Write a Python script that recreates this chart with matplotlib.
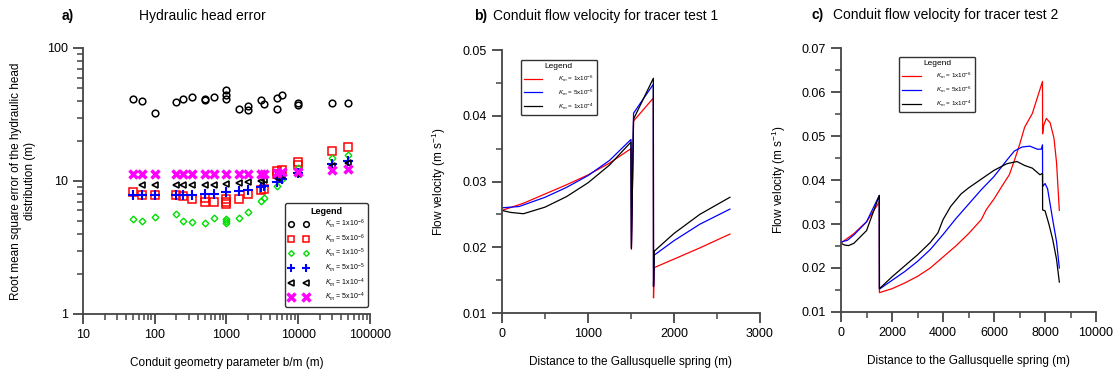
import matplotlib.pyplot as plt
from matplotlib.ticker import FixedLocator, NullFormatter, LogLocator

plt.rcParams['font.family'] = ['Liberation Sans', 'DejaVu Sans']
plt.rcParams['mathtext.fontset'] = 'custom'
plt.rcParams['mathtext.rm'] = 'Liberation Sans'
plt.rcParams['mathtext.it'] = 'Liberation Sans:italic'

# ---- panel a: RMSE of hydraulic head vs conduit geometry parameter
circ_x = [50, 67, 100, 200, 250, 333, 500, 500, 667, 1000, 1000, 1000, 1500, 2000, 2000,
          3000, 3333, 5000, 5000, 6000, 10000, 10000, 30000, 50000]
circ_y = [41, 40, 32.5, 39, 41.6, 42.8, 41.5, 40.7, 43, 48.3, 44.4, 41.4, 35, 36.6, 34,
          40.5, 37.9, 41.9, 34.8, 44.4, 38.4, 37.1, 38.6, 38.6]

sq_x = [50, 67, 100, 200, 250, 333, 500, 500, 667, 1000, 1000, 1000, 1500, 2000, 3000,
        3333, 5000, 5000, 6000, 10000, 10000, 30000, 50000]
sq_y = [8.2, 7.9, 7.8, 7.9, 7.7, 7.3, 7.4, 6.95, 7.0, 7.3, 7.0, 6.7, 7.3, 8.0, 8.5,
        8.7, 11.2, 11.8, 12.2, 13.2, 14.0, 16.8, 17.9]

dia_x = [50, 67, 100, 200, 250, 333, 500, 667, 1000, 1000, 1000, 1500, 2000, 3000, 3333,
         5000, 6000, 10000, 30000, 50000]
dia_y = [5.15, 5.0, 5.4, 5.65, 5.0, 4.95, 4.85, 5.3, 5.15, 5.0, 4.85, 5.25, 5.85, 7.1, 7.45,
         9.1, 10.3, 12.5, 14.9, 15.7]

plus_x = [50, 67, 100, 200, 250, 333, 500, 667, 1000, 1500, 2000, 3000, 3333, 5000, 6000,
          10000, 30000, 50000]
plus_y = [7.85, 7.85, 7.8, 7.9, 7.85, 7.85, 8.0, 8.05, 8.2, 8.45, 8.5, 9.05, 9.2, 9.8, 10.3,
          11.5, 13.4, 14.2]

tri_x = [67, 100, 200, 250, 333, 500, 667, 1000, 1500, 2000, 3000, 3333, 5000, 6000,
         10000, 30000, 50000]
tri_y = [9.3, 9.3, 9.35, 9.35, 9.35, 9.4, 9.4, 9.55, 9.7, 9.8, 10.0, 10.2, 10.6, 11.0,
         11.2, 13.0, 13.6]

cross_x = [50, 67, 100, 200, 250, 333, 500, 667, 1000, 1500, 2000, 3000, 3333, 5000, 6000,
           10000, 30000, 50000]
cross_y = [11.2, 11.2, 11.2, 11.2, 11.2, 11.2, 11.2, 11.2, 11.2, 11.2, 11.2, 11.2, 11.3,
           11.4, 11.6, 11.7, 12.1, 12.4]

km_labels_a = ['1x10$^{-6}$', '5x10$^{-6}$', '1x10$^{-5}$', '5x10$^{-5}$',
               '1x10$^{-4}$', '5x10$^{-4}$']

# ---- panel b: conduit flow velocity, tracer test 1
b_red_x = [0, 250, 500, 750, 1000, 1250, 1500, 1505, 1530, 1760, 1762, 1770, 2000, 2300, 2650]
b_red_y = [0.0256, 0.0267, 0.0281, 0.0295, 0.0310, 0.0328, 0.0350, 0.0197, 0.0392, 0.0427,
           0.0123, 0.0169, 0.0182, 0.0199, 0.0220]
b_blue_x = [0, 200, 500, 750, 1000, 1250, 1500, 1505, 1530, 1760, 1762, 1770, 2000, 2300, 2650]
b_blue_y = [0.0260, 0.0262, 0.0276, 0.0291, 0.0309, 0.0332, 0.0364, 0.0200, 0.0404, 0.0448,
            0.0140, 0.0188, 0.0210, 0.0235, 0.0258]
b_black_x = [0, 100, 250, 500, 750, 1000, 1250, 1500, 1505, 1530, 1760, 1762, 1770, 2000,
             2300, 2650]
b_black_y = [0.0256, 0.0253, 0.0251, 0.0261, 0.0277, 0.0298, 0.0325, 0.0360, 0.0198, 0.0395,
             0.0457, 0.0141, 0.0194, 0.0221, 0.0250, 0.0276]

# ---- panel c: conduit flow velocity, tracer test 2
c_red_x = [0, 500, 1000, 1500, 1505, 2000, 2500, 3000, 3500, 4000, 4500, 5000, 5500, 5700,
           6000, 6300, 6600, 6800, 7000, 7200, 7500, 7900, 7905, 7950, 8050, 8200, 8350,
           8450, 8560]
c_red_y = [0.0257, 0.0278, 0.0305, 0.0350, 0.0144, 0.0153, 0.0166, 0.0181, 0.0200, 0.0225,
           0.0250, 0.0278, 0.0310, 0.0333, 0.0357, 0.0385, 0.0412, 0.0445, 0.0480, 0.0520,
           0.0551, 0.0624, 0.0505, 0.0525, 0.0540, 0.0530, 0.0495, 0.0440, 0.0331]
c_blue_x = [0, 250, 500, 1000, 1500, 1505, 2000, 2500, 3000, 3500, 4000, 4500, 5000, 5500,
            6000, 6500, 6800, 7100, 7400, 7700, 7850, 7900, 7905, 8000, 8100, 8300, 8450, 8560]
c_blue_y = [0.0259, 0.0263, 0.0275, 0.0305, 0.0365, 0.0152, 0.0172, 0.0192, 0.0215, 0.0242,
            0.0276, 0.0312, 0.0345, 0.0378, 0.0408, 0.0445, 0.0466, 0.0475, 0.0477, 0.0470,
            0.0470, 0.0480, 0.0385, 0.0392, 0.0380, 0.0310, 0.0260, 0.0200]
c_black_x = [0, 150, 300, 500, 1000, 1500, 1505, 2000, 2500, 3000, 3500, 3800, 4000, 4300,
             4700, 5000, 5400, 5700, 6000, 6500, 6900, 7200, 7500, 7800, 7900, 7905, 8000,
             8150, 8300, 8450, 8560]
c_black_y = [0.0256, 0.0252, 0.0251, 0.0256, 0.0285, 0.0365, 0.0153, 0.0180, 0.0205, 0.0230,
             0.0258, 0.0280, 0.0310, 0.0340, 0.0368, 0.0382, 0.0398, 0.0410, 0.0422, 0.0437,
             0.0442, 0.0433, 0.0427, 0.0412, 0.0415, 0.0332, 0.0330, 0.0300, 0.0265, 0.0220,
             0.0168]

km_labels_bc = ['1x10$^{-6}$', '5x10$^{-6}$', '1x10$^{-4}$']

SPINE = '#444444'


def style_axes(ax):
    for s in ['top', 'right']:
        ax.spines[s].set_visible(False)
    for s in ['left', 'bottom']:
        ax.spines[s].set_color(SPINE)
        ax.spines[s].set_linewidth(1.3)
    ax.tick_params(which='major', direction='out', length=7, width=1.3, color=SPINE,
                   labelsize=9, pad=4)
    ax.tick_params(which='minor', direction='out', length=4, width=1.1, color=SPINE)


def small_legend(ax, anchor):
    leg = ax.legend(loc='upper left', bbox_to_anchor=anchor, fontsize=4.5,
                    title='Legend', title_fontsize=6, frameon=True, fancybox=True,
                    edgecolor='black', handlelength=3.0, borderpad=0.5, labelspacing=0.6,
                    handletextpad=2.5)
    leg.get_frame().set_linewidth(1.0)
    return leg


fig = plt.figure(figsize=(11.15, 3.75), dpi=100)

# ---------------- panel a
ax1 = fig.add_axes([0.0744, 0.1627, 0.2574, 0.7093])
ax1.set_xscale('log')
ax1.set_yscale('log')
ax1.plot(circ_x, circ_y, 'o', ls='none', mfc='none', mec='black', ms=4.8, mew=1.1,
         label='$K_m$ = ' + km_labels_a[0])
ax1.plot(sq_x, sq_y, 's', ls='none', mfc='none', mec='red', ms=5.2, mew=1.1,
         label='$K_m$ = ' + km_labels_a[1])
ax1.plot(dia_x, dia_y, 'D', ls='none', mfc='none', mec='#00dd00', ms=3.4, mew=1.0,
         label='$K_m$ = ' + km_labels_a[2])
ax1.plot(plus_x, plus_y, '+', ls='none', color='blue', ms=7, mew=1.5,
         label='$K_m$ = ' + km_labels_a[3])
ax1.plot(tri_x, tri_y, '<', ls='none', mfc='none', mec='black', ms=5, mew=1.2,
         label='$K_m$ = ' + km_labels_a[4])
ax1.plot(cross_x, cross_y, 'x', ls='none', color='#ff00ff', ms=6, mew=2.5,
         label='$K_m$ = ' + km_labels_a[5])
ax1.set_xlim(10, 100000)
ax1.set_ylim(1, 100)
style_axes(ax1)
ax1.xaxis.set_minor_locator(LogLocator(base=10, subs=range(2, 10), numticks=20))
ax1.xaxis.set_minor_formatter(NullFormatter())
ax1.yaxis.set_minor_formatter(NullFormatter())
ax1.set_xticks([10, 100, 1000, 10000, 100000])
ax1.set_xticklabels(['10', '100', '1000', '10000', '100000'])
ax1.set_yticks([1, 10, 100])
ax1.set_yticklabels(['1', '10', '100'])
ax1.set_xlabel('Conduit geometry parameter b/m (m)', fontsize=8.5, labelpad=11)
ax1.set_ylabel('Root mean square error of the hydraulic head\ndistribution (m)',
               fontsize=8.5, labelpad=8)
leg = ax1.legend(loc='lower right', bbox_to_anchor=(1.0, 0.02), numpoints=2, fontsize=5,
                 title='Legend', title_fontsize=6.5, frameon=True, fancybox=True,
                 edgecolor='black', handlelength=2.8, handleheight=0.5, borderpad=0.5,
                 labelspacing=0.3, handletextpad=2.4, markerscale=0.85,
                 borderaxespad=0.3)
leg.get_title().set_fontweight('bold')
leg.get_frame().set_linewidth(1.0)

# ---------------- panel b
ax2 = fig.add_axes([0.4502, 0.1653, 0.2314, 0.7013])
ax2.plot(b_red_x, b_red_y, color='red', lw=0.9, label='$K_m$ = ' + km_labels_bc[0])
ax2.plot(b_blue_x, b_blue_y, color='blue', lw=0.9, label='$K_m$ = ' + km_labels_bc[1])
ax2.plot(b_black_x, b_black_y, color='black', lw=0.9, label='$K_m$ = ' + km_labels_bc[2])
ax2.set_xlim(0, 3000)
ax2.set_ylim(0.01, 0.05)
style_axes(ax2)
ax2.xaxis.set_major_locator(FixedLocator([0, 1000, 2000, 3000]))
ax2.xaxis.set_minor_locator(FixedLocator([500, 1500, 2500]))
ax2.yaxis.set_major_locator(FixedLocator([0.01, 0.02, 0.03, 0.04, 0.05]))
ax2.yaxis.set_minor_locator(FixedLocator([0.015, 0.025, 0.035, 0.045]))
ax2.set_yticklabels(['0.01', '0.02', '0.03', '0.04', '0.05'])
ax2.set_xlabel('Distance to the Gallusquelle spring (m)', fontsize=8.5, labelpad=11)
ax2.set_ylabel('Flow velocity (m s$^{-1}$)', fontsize=8.5, labelpad=10)
small_legend(ax2, (0.06, 0.975))

# ---------------- panel c
ax3 = fig.add_axes([0.7543, 0.168, 0.2287, 0.704])
ax3.plot(c_red_x, c_red_y, color='red', lw=0.9, label='$K_m$ = ' + km_labels_bc[0])
ax3.plot(c_blue_x, c_blue_y, color='blue', lw=0.9, label='$K_m$ = ' + km_labels_bc[1])
ax3.plot(c_black_x, c_black_y, color='black', lw=0.9, label='$K_m$ = ' + km_labels_bc[2])
ax3.set_xlim(0, 10000)
ax3.set_ylim(0.01, 0.07)
style_axes(ax3)
ax3.xaxis.set_major_locator(FixedLocator([0, 2000, 4000, 6000, 8000, 10000]))
ax3.xaxis.set_minor_locator(FixedLocator([1000, 3000, 5000, 7000, 9000]))
ax3.yaxis.set_major_locator(FixedLocator([0.01, 0.02, 0.03, 0.04, 0.05, 0.06, 0.07]))
ax3.yaxis.set_minor_locator(FixedLocator([0.015, 0.025, 0.035, 0.045, 0.055, 0.065]))
ax3.set_yticklabels(['0.01', '0.02', '0.03', '0.04', '0.05', '0.06', '0.07'])
ax3.set_xlabel('Distance to the Gallusquelle spring (m)', fontsize=8.5, labelpad=11)
ax3.set_ylabel('Flow velocity (m s$^{-1}$)', fontsize=8.5, labelpad=10)
small_legend(ax3, (0.215, 0.978))

# ---------------- titles
fig.text(0.0556, 0.957, 'a)', fontsize=10, fontweight='bold', va='center')
fig.text(0.1247, 0.957, 'Hydraulic head error', fontsize=10, va='center')
fig.text(0.425, 0.957, 'b)', fontsize=10, fontweight='bold', va='center')
fig.text(0.442, 0.957, 'Conduit flow velocity for tracer test 1', fontsize=10, va='center')
fig.text(0.728, 0.96, 'c)', fontsize=10, fontweight='bold', va='center')
fig.text(0.747, 0.96, 'Conduit flow velocity for tracer test 2', fontsize=10, va='center')

fig.savefig('out.png', dpi=100)
